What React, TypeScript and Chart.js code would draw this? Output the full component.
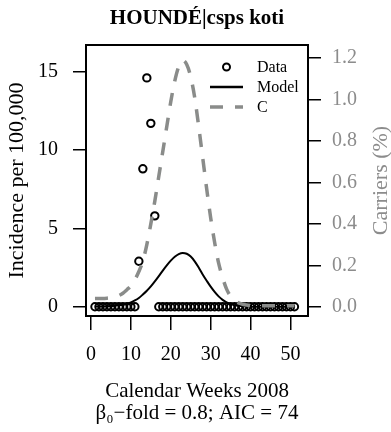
import { useEffect, useRef } from "react";
import { Chart, registerables } from "chart.js";

Chart.register(...registerables);

const weeks = [1,2,3,4,5,6,7,8,9,10,11,12,13,14,15,16,17,18,19,20,21,22,23,24,25,26,27,28,29,30,31,32,33,34,35,36,37,38,39,40,41,42,43,44,45,46,47,48,49,50,51];
const incidence = [0,0,0,0,0,0,0,0,0,0,0,2.9,8.8,14.6,11.7,5.8,0,0,0,0,0,0,0,0,0,0,0,0,0,0,0,0,0,0,0,0,0,0,0,0,0,0,0,0,0,0,0,0,0,0,0];
const model = [0.01,0.015,0.02,0.03,0.045,0.07,0.1,0.13,0.19,0.28,0.4,0.56,0.78,1.02,1.3,1.62,1.96,2.31,2.64,2.94,3.19,3.36,3.43,3.38,3.2,2.9,2.5,2.06,1.66,1.28,0.95,0.66,0.44,0.28,0.17,0.1,0.06,0.03,0.015,0.008,0.005,0.005,0.005,0.005,0.005,0.005,0.005,0.005,0.005,0.005,0.005];
const carriers = [0.04,0.04,0.04,0.041,0.043,0.047,0.054,0.065,0.082,0.1,0.13,0.17,0.22,0.3,0.4,0.51,0.63,0.75,0.87,0.99,1.09,1.16,1.19,1.17,1.11,1.01,0.87,0.72,0.57,0.43,0.31,0.21,0.14,0.085,0.05,0.03,0.018,0.012,0.008,0.006,0.005,0.005,0.005,0.005,0.005,0.005,0.005,0.005,0.005,0.005,0.005];

const xTicks = [0, 10, 20, 30, 40, 50];
const yTicks = [0, 5, 10, 15];
const y2Ticks = [0, 0.2, 0.4, 0.6, 0.8, 1.0, 1.2];

const titleText = "HOUNDÉ|csps koti";
const yTitle = "Incidence per 100,000";
const y2Title = "Carriers (%)";
const xTitle = ["Calendar Weeks 2008", "β₀−fold = 0.8; AIC = 74"];
const legendLabels = ["Data", "Model", "C"];

const SERIF = "'Liberation Serif', 'Times New Roman', serif";
const GRAY = "#8a8c8a";
const LABEL_GRAY = "#8c8c8c";

export default function App() {
  const ref = useRef<HTMLCanvasElement | null>(null);

  useEffect(() => {
    if (!ref.current) return;

    const decor = {
      id: "decor",
      afterDraw(chart: any) {
        const { ctx, chartArea } = chart;
        const { left, right, top, bottom } = chartArea;
        ctx.save();
        ctx.strokeStyle = "#000";
        ctx.lineWidth = 2;
        ctx.strokeRect(left, top, right - left, bottom - top);
        ctx.fillStyle = "#000";
        ctx.font = `bold 21px ${SERIF}`;
        ctx.textAlign = "center";
        ctx.textBaseline = "middle";
        ctx.fillText(titleText, (left + right) / 2, 19);
        ctx.save();
        ctx.translate(381, (top + bottom) / 2);
        ctx.rotate(-Math.PI / 2);
        ctx.fillStyle = LABEL_GRAY;
        ctx.font = `22px ${SERIF}`;
        ctx.fillText(y2Title, 0, 0);
        ctx.restore();
        const lx = right - 98;
        const tx = right - 51;
        const rows = [top + 22, top + 42, top + 62];
        ctx.font = `16px ${SERIF}`;
        ctx.textAlign = "left";
        ctx.textBaseline = "middle";
        ctx.beginPath();
        ctx.lineWidth = 2;
        ctx.strokeStyle = "#000";
        ctx.arc(lx + 16.5, rows[0], 3.5, 0, Math.PI * 2);
        ctx.stroke();
        ctx.beginPath();
        ctx.lineWidth = 2.5;
        ctx.moveTo(lx, rows[1]);
        ctx.lineTo(lx + 33, rows[1]);
        ctx.stroke();
        ctx.beginPath();
        ctx.strokeStyle = GRAY;
        ctx.lineWidth = 3.5;
        ctx.setLineDash([13, 12]);
        ctx.moveTo(lx, rows[2]);
        ctx.lineTo(lx + 33, rows[2]);
        ctx.stroke();
        ctx.setLineDash([]);
        ctx.fillStyle = "#000";
        legendLabels.forEach((t, i) => ctx.fillText(t, tx, rows[i] + 1));
        ctx.restore();
      },
    };

    const chart = new Chart(ref.current, {
      type: "line",
      data: {
        datasets: [
          {
            label: "C",
            data: weeks.map((w, i) => ({ x: w, y: carriers[i] })),
            yAxisID: "y2",
            borderColor: GRAY,
            borderWidth: 3.5,
            borderDash: [13, 12],
            pointRadius: 0,
            cubicInterpolationMode: "monotone",
            fill: false,
          },
          {
            label: "Model",
            data: weeks.map((w, i) => ({ x: w, y: model[i] })),
            yAxisID: "y",
            borderColor: "#000",
            borderWidth: 2,
            pointRadius: 0,
            cubicInterpolationMode: "monotone",
            fill: false,
          },
          {
            label: "Data",
            data: weeks.map((w, i) => ({ x: w, y: incidence[i] })),
            yAxisID: "y",
            showLine: false,
            borderColor: "#000",
            backgroundColor: "rgba(0,0,0,0)",
            pointRadius: 3.7,
            pointBorderWidth: 2,
            pointBorderColor: "#000",
            pointBackgroundColor: "rgba(0,0,0,0)",
          },
        ],
      },
      options: {
        animation: false,
        responsive: false,
        devicePixelRatio: 1,
        layout: { padding: { top: 45, left: 0, right: 0, bottom: 0 } },
        plugins: { legend: { display: false }, tooltip: { enabled: false }, title: { display: false } },
        scales: {
          x: {
            type: "linear",
            min: -1.25,
            max: 54.4,
            afterBuildTicks: (s: any) => { s.ticks = xTicks.map((v) => ({ value: v })); },
            afterFit: (s: any) => { s.height = 116; },
            border: { display: false },
            grid: { drawOnChartArea: false, drawTicks: true, tickLength: 14, color: "#000", lineWidth: 1.5 },
            ticks: { color: "#000", font: { size: 20, family: SERIF }, padding: 13, maxRotation: 0, autoSkip: false },
            title: { display: true, text: xTitle, color: "#000", font: { size: 21, family: SERIF, lineHeight: 1.05 }, padding: { top: 0, bottom: 7 } },
          },
          y: {
            type: "linear",
            position: "left",
            min: -0.59,
            max: 16.7,
            afterBuildTicks: (s: any) => { s.ticks = yTicks.map((v) => ({ value: v })); },
            afterFit: (s: any) => { s.width = 86; },
            border: { display: false },
            grid: { drawOnChartArea: false, drawTicks: true, tickLength: 13, color: "#000", lineWidth: 1.5 },
            ticks: { color: "#000", font: { size: 20, family: SERIF }, padding: 15, autoSkip: false },
            title: { display: true, text: yTitle, color: "#000", font: { size: 22, family: SERIF, lineHeight: 1.2 }, padding: { top: 4, bottom: 0 } },
          },
          y2: {
            type: "linear",
            position: "right",
            min: -0.045,
            max: 1.264,
            afterBuildTicks: (s: any) => { s.ticks = y2Ticks.map((v) => ({ value: v })); },
            afterFit: (s: any) => { s.width = 83; },
            border: { display: false },
            grid: { drawOnChartArea: false, drawTicks: true, tickLength: 13, color: "#000", lineWidth: 1.5 },
            ticks: { color: LABEL_GRAY, font: { size: 20, family: SERIF }, padding: 11, autoSkip: false, callback: (v: any) => Number(v).toFixed(1) },
          },
        },
      },
      plugins: [decor],
    } as any);

    return () => chart.destroy();
  }, []);

  return (
    <div style={{ position: "fixed", left: 0, top: 0, width: 391, height: 432, background: "#fff" }}>
      <canvas ref={ref} width={391} height={432} style={{ width: 391, height: 432, display: "block" }} />
    </div>
  );
}
